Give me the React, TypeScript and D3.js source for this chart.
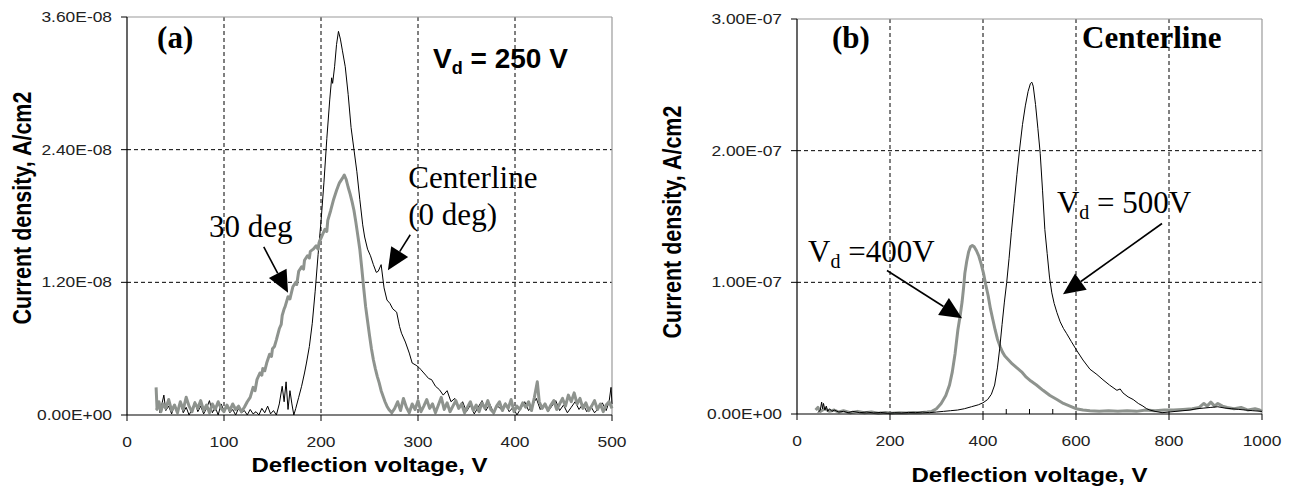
import React from "react";
import * as d3 from "d3";

// ---------- Panel (a): Vd = 250 V, current density in units of 1e-8 A/cm2 ----------
const aXTicks = [0, 100, 200, 300, 400, 500];
const aYTicks = [0, 1.2, 2.4, 3.6];
const aYTickLabels = ["0.00E+00", "1.20E-08", "2.40E-08", "3.60E-08"];

const centerline0deg: [number, number][] = [
  [30, 0.05], [32, 0.12], [34, 0.02], [36, 0.1], [38, 0.18], [40, 0.04], [43, 0.08], [46, 0.01],
  [49, 0.09], [52, 0.03], [55, 0.11], [58, 0.02], [61, 0.07], [64, 0.0], [67, 0.05], [70, 0.12],
  [73, 0.03], [76, 0.08], [79, 0.01], [82, 0.06], [85, 0.13], [88, 0.02], [91, 0.07], [94, 0.0],
  [97, 0.1], [100, 0.04], [103, 0.09], [106, 0.02], [109, 0.05], [112, 0.0], [115, 0.06], [118, 0.02],
  [121, 0.04], [124, 0.0], [127, 0.05], [130, 0.01], [133, 0.03], [136, 0.0], [139, 0.06], [142, 0.02],
  [145, 0.08], [148, 0.01], [151, 0.04], [154, 0.0], [157, 0.1], [160, 0.26], [162, 0.12], [164, 0.3],
  [166, 0.05], [168, 0.22], [170, 0.1], [172, 0.0], [174, 0.06], [177, 0.16], [180, 0.26], [183, 0.38],
  [185, 0.47], [188, 0.62], [191, 0.83], [194, 1.12], [197, 1.45], [200, 1.75], [203, 2.1], [206, 2.5],
  [209, 2.85], [211, 3.05], [212, 3.0], [214, 3.15], [216, 3.35], [218, 3.47], [220, 3.4], [222, 3.3],
  [225, 3.15], [228, 2.9], [231, 2.6], [234, 2.4], [237, 2.2], [240, 1.95], [243, 1.72], [245, 1.61],
  [248, 1.5], [251, 1.44], [254, 1.36], [257, 1.29], [259, 1.3], [262, 1.36], [265, 1.15], [268, 1.04],
  [271, 1.01], [274, 0.96], [278, 0.93], [281, 0.8], [283, 0.74], [287, 0.66], [291, 0.56], [294, 0.47],
  [298, 0.45], [301, 0.43], [303, 0.41], [306, 0.38], [308, 0.36], [311, 0.33], [314, 0.32], [318, 0.26],
  [322, 0.23], [326, 0.18], [330, 0.22], [334, 0.12], [338, 0.15], [342, 0.06], [346, 0.12], [350, 0.03],
  [354, 0.09], [358, 0.01], [362, 0.07], [366, 0.13], [370, 0.04], [374, 0.1], [378, 0.02], [382, 0.08],
  [386, 0.05], [390, 0.11], [394, 0.03], [398, 0.07], [402, 0.0], [406, 0.06], [410, 0.12], [414, 0.04],
  [418, 0.09], [422, 0.15], [426, 0.05], [430, 0.1], [434, 0.03], [438, 0.08], [442, 0.13], [446, 0.04],
  [450, 0.09], [454, 0.02], [458, 0.07], [462, 0.12], [466, 0.05], [470, 0.1], [474, 0.03], [478, 0.08],
  [482, 0.02], [486, 0.06], [490, 0.11], [494, 0.04], [497, 0.12], [499, 0.25], [500, 0.1],
];

const deg30: [number, number][] = [
  [30, 0.25], [31, 0.05], [33, 0.12], [35, 0.03], [37, 0.1], [40, 0.06], [43, 0.14], [46, 0.04],
  [49, 0.09], [52, 0.02], [55, 0.12], [58, 0.05], [61, 0.16], [64, 0.08], [67, 0.03], [70, 0.11],
  [73, 0.06], [76, 0.13], [79, 0.04], [82, 0.09], [85, 0.02], [88, 0.1], [91, 0.05], [94, 0.12],
  [97, 0.06], [100, 0.03], [103, 0.09], [106, 0.04], [109, 0.1], [112, 0.05], [115, 0.08], [118, 0.03],
  [121, 0.07], [124, 0.12], [127, 0.16], [130, 0.25], [132, 0.22], [134, 0.32], [137, 0.38], [139, 0.36],
  [140, 0.42], [142, 0.4], [144, 0.47], [147, 0.55], [149, 0.53], [150, 0.6], [152, 0.62], [154, 0.68],
  [157, 0.78], [159, 0.82], [160, 0.9], [162, 0.96], [163, 0.98], [166, 1.07], [168, 1.05], [171, 1.16],
  [174, 1.2], [175, 1.18], [177, 1.3], [180, 1.34], [182, 1.32], [183, 1.4], [186, 1.44], [188, 1.42],
  [189, 1.48], [192, 1.5], [195, 1.53], [197, 1.5], [198, 1.56], [201, 1.62], [204, 1.68], [206, 1.66],
  [207, 1.76], [210, 1.85], [213, 1.95], [216, 2.03], [219, 2.1], [222, 2.14], [224, 2.17], [226, 2.13],
  [228, 2.06], [230, 2.0], [232, 1.93], [234, 1.85], [236, 1.74], [238, 1.62], [240, 1.5], [242, 1.33],
  [244, 1.15], [246, 0.98], [248, 0.85], [250, 0.72], [252, 0.6], [254, 0.5], [256, 0.42], [258, 0.35],
  [260, 0.29], [262, 0.22], [264, 0.17], [266, 0.12], [268, 0.08], [270, 0.05], [273, 0.02], [276, 0.06],
  [279, 0.12], [282, 0.04], [285, 0.15], [288, 0.07], [291, 0.02], [294, 0.1], [297, 0.05], [300, 0.13],
  [303, 0.03], [306, 0.08], [309, 0.14], [312, 0.06], [315, 0.1], [318, 0.02], [321, 0.09], [324, 0.16],
  [327, 0.05], [330, 0.11], [333, 0.03], [336, 0.08], [339, 0.13], [342, 0.06], [345, 0.1], [348, 0.02],
  [351, 0.07], [354, 0.12], [357, 0.04], [360, 0.09], [363, 0.03], [366, 0.11], [369, 0.06], [372, 0.13],
  [375, 0.05], [378, 0.02], [381, 0.08], [384, 0.12], [387, 0.04], [390, 0.1], [393, 0.06], [396, 0.14],
  [399, 0.03], [402, 0.08], [405, 0.05], [408, 0.11], [411, 0.07], [414, 0.12], [417, 0.04], [420, 0.16],
  [423, 0.3], [425, 0.12], [428, 0.06], [431, 0.1], [434, 0.04], [437, 0.09], [440, 0.13], [443, 0.05],
  [446, 0.1], [449, 0.15], [452, 0.08], [455, 0.18], [458, 0.12], [461, 0.2], [464, 0.1], [467, 0.15],
  [470, 0.06], [473, 0.11], [476, 0.04], [479, 0.08], [482, 0.13], [485, 0.05], [488, 0.1], [491, 0.03],
  [494, 0.09], [497, 0.12], [500, 0.06],
];

// ---------- Panel (b): centerline, current density in units of 1e-7 A/cm2 ----------
const bXTicks = [0, 200, 400, 600, 800, 1000];
const bMinorTicks = [450, 500, 550];
const bYTicks = [0, 1, 2, 3];
const bYTickLabels = ["0.00E+00", "1.00E-07", "2.00E-07", "3.00E-07"];

const vd400: [number, number][] = [
  [40, 0.03], [45, 0.05], [50, 0.02], [60, 0.04], [70, 0.02], [80, 0.03], [90, 0.015], [100, 0.025],
  [115, 0.01], [130, 0.02], [145, 0.01], [160, 0.015], [175, 0.005], [190, 0.012], [205, 0.005], [220, 0.01],
  [235, 0.008], [250, 0.012], [265, 0.01], [280, 0.015], [290, 0.02], [300, 0.04], [310, 0.08], [320, 0.14],
  [328, 0.22], [334, 0.32], [340, 0.46], [346, 0.64], [351, 0.75], [355, 0.85], [358, 0.95], [361, 1.07],
  [365, 1.16], [369, 1.23], [373, 1.27], [377, 1.28], [381, 1.27], [386, 1.24], [391, 1.2], [396, 1.14],
  [401, 1.07], [406, 0.98], [411, 0.9], [416, 0.8], [421, 0.72], [426, 0.64], [431, 0.57], [437, 0.51],
  [442, 0.47], [447, 0.44], [455, 0.41], [463, 0.38], [473, 0.35], [483, 0.32], [493, 0.28], [503, 0.25],
  [515, 0.22], [529, 0.18], [544, 0.14], [559, 0.11], [573, 0.08], [587, 0.06], [600, 0.04], [615, 0.03],
  [630, 0.025], [650, 0.02], [670, 0.025], [690, 0.02], [710, 0.025], [730, 0.02], [750, 0.03], [770, 0.025],
  [790, 0.03], [810, 0.03], [830, 0.035], [850, 0.04], [865, 0.05], [875, 0.08], [882, 0.06], [890, 0.09],
  [898, 0.06], [905, 0.08], [915, 0.06], [925, 0.05], [940, 0.04], [955, 0.05], [970, 0.03], [985, 0.04],
  [995, 0.03], [1000, 0.02],
];

const vd500: [number, number][] = [
  [45, 0.01], [50, 0.03], [53, 0.09], [55, 0.04], [57, 0.08], [60, 0.03], [63, 0.06], [66, 0.02],
  [70, 0.04], [75, 0.02], [80, 0.03], [90, 0.015], [100, 0.02], [110, 0.01], [120, 0.02], [135, 0.01],
  [150, 0.015], [165, 0.008], [180, 0.012], [195, 0.006], [210, 0.01], [225, 0.008], [240, 0.012], [255, 0.01],
  [270, 0.015], [285, 0.01], [300, 0.015], [315, 0.02], [330, 0.025], [345, 0.03], [360, 0.04], [375, 0.055],
  [390, 0.07], [400, 0.085], [410, 0.11], [418, 0.15], [425, 0.22], [431, 0.35], [436, 0.5], [441, 0.68],
  [446, 0.85], [451, 1.0], [456, 1.18], [461, 1.38], [467, 1.6], [473, 1.82], [479, 2.02], [485, 2.2],
  [491, 2.34], [497, 2.45], [502, 2.51], [505, 2.52], [508, 2.49], [513, 2.35], [518, 2.17], [523, 1.98],
  [528, 1.7], [533, 1.4], [538, 1.22], [543, 1.04], [548, 0.92], [553, 0.84], [559, 0.77], [566, 0.7],
  [573, 0.65], [580, 0.61], [590, 0.55], [602, 0.48], [615, 0.41], [630, 0.34], [645, 0.3], [658, 0.26],
  [672, 0.22], [688, 0.18], [695, 0.19], [701, 0.16], [712, 0.13], [723, 0.11], [734, 0.08], [744, 0.06],
  [752, 0.04], [759, 0.03], [770, 0.02], [785, 0.01], [800, 0.015], [815, 0.02], [830, 0.025], [845, 0.03],
  [860, 0.04], [875, 0.045], [890, 0.05], [905, 0.055], [920, 0.045], [935, 0.04], [950, 0.035], [965, 0.03],
  [980, 0.025], [1000, 0.02],
];

const GREY = "#8e938e";
const SANS = "'Liberation Sans', Arial, sans-serif";
const SERIF = "'Liberation Serif', 'Times New Roman', serif";
const STRETCH = 1.2;

type Arrow = { from: [number, number]; to: [number, number] };

function ArrowMark({ a, x, y }: { a: Arrow; x: any; y: any }) {
  const x1 = x(a.from[0]), y1 = y(a.from[1]);
  const x2 = x(a.to[0]), y2 = y(a.to[1]);
  const dx = x2 - x1, dy = y2 - y1;
  const len = Math.hypot(dx, dy);
  const ux = dx / len, uy = dy / len;
  const hl = 22, hw = 10;
  const bx = x2 - ux * hl, by = y2 - uy * hl;
  const pts = `${x2},${y2} ${bx - uy * hw},${by + ux * hw} ${bx + uy * hw},${by - ux * hw}`;
  return (
    <g>
      <line x1={x1} y1={y1} x2={bx} y2={by} stroke="#000" strokeWidth={1.6} />
      <polygon points={pts} fill="#000" />
    </g>
  );
}

function Panel(props: {
  x0: number; x1: number; yTop: number; yBot: number;
  xDomain: [number, number]; yDomain: [number, number];
  xTicks: number[]; yTicks: number[]; yTickLabels: string[]; minorTicks?: number[];
  series: { data: [number, number][]; color: string; width: number }[];
  yTitleX: number; yTitleY: number; xTitleY: number;
  children?: (x: any, y: any) => React.ReactNode;
}) {
  const x = d3.scaleLinear().domain(props.xDomain).range([props.x0, props.x1]);
  const y = d3.scaleLinear().domain(props.yDomain).range([props.yBot, props.yTop]);
  const line = d3.line<[number, number]>().x((d) => x(d[0])).y((d) => y(d[1]));
  const xMid = (props.x0 + props.x1) / 2;
  return (
    <g>
      {props.xTicks.slice(1, -1).map((t) => (
        <line key={"gx" + t} x1={x(t)} x2={x(t)} y1={props.yTop} y2={props.yBot} stroke="#000" strokeWidth={1} strokeDasharray="4,3" />
      ))}
      {props.yTicks.slice(1, -1).map((t) => (
        <line key={"gy" + t} x1={props.x0} x2={props.x1} y1={y(t)} y2={y(t)} stroke="#000" strokeWidth={1} strokeDasharray="4,3" />
      ))}
      <line x1={props.x0} x2={props.x1} y1={props.yTop} y2={props.yTop} stroke="#9a9a9a" strokeWidth={1.2} />
      <line x1={props.x1} x2={props.x1} y1={props.yTop} y2={props.yBot} stroke="#9a9a9a" strokeWidth={1.2} />
      {props.series.map((s, i) => (
        <path key={i} d={line(s.data) || ""} fill="none" stroke={s.color} strokeWidth={s.width} strokeLinejoin="round" />
      ))}
      <line x1={props.x0} x2={props.x0} y1={props.yTop} y2={props.yBot} stroke="#000" strokeWidth={1.2} />
      <line x1={props.x0} x2={props.x1} y1={props.yBot} y2={props.yBot} stroke="#000" strokeWidth={1.2} />
      {props.yTicks.map((t, i) => (
        <g key={"yt" + t}>
          <line x1={props.x0 - 6} x2={props.x0} y1={y(t)} y2={y(t)} stroke="#000" strokeWidth={1} />
          <text
            transform={`translate(${props.x0 - 15},${y(t)}) scale(${STRETCH},1)`}
            dy="0.35em" textAnchor="end" fontFamily={SANS} fontSize={14.5} fill="#222"
          >
            {props.yTickLabels[i]}
          </text>
        </g>
      ))}
      {props.xTicks.map((t) => (
        <g key={"xt" + t}>
          <line x1={x(t)} x2={x(t)} y1={props.yBot} y2={props.yBot + 6} stroke="#000" strokeWidth={1} />
          <text
            transform={`translate(${x(t)},${props.yBot + 32}) scale(${STRETCH},1)`}
            textAnchor="middle" fontFamily={SANS} fontSize={14.5} fill="#222"
          >
            {t}
          </text>
        </g>
      ))}
      {(props.minorTicks || []).map((t) => (
        <line key={"mt" + t} x1={x(t)} x2={x(t)} y1={props.yBot - 5} y2={props.yBot} stroke="#000" strokeWidth={1} />
      ))}
      <text
        transform={`translate(${xMid},${props.xTitleY}) scale(${STRETCH},1)`}
        textAnchor="middle" fontFamily={SANS} fontWeight="bold" fontSize={20} fill="#000"
      >
        Deflection voltage, V
      </text>
      <text
        transform={`translate(${props.yTitleX},${props.yTitleY}) scale(${STRETCH},1) rotate(-90)`}
        textAnchor="middle" dy="0.35em" fontFamily={SANS} fontWeight="bold" fontSize={21.5} fill="#000"
      >
        Current density, A/cm2
      </text>
      {props.children ? props.children(x, y) : null}
    </g>
  );
}

const aArrows: Arrow[] = [
  { from: [141, 1.52], to: [166, 1.105] },
  { from: [292, 1.63], to: [269, 1.31] },
];
const bArrows: Arrow[] = [
  { from: [193.5, 1.09], to: [355, 0.727] },
  { from: [785, 1.447], to: [572, 0.909] },
];

export default function App() {
  return (
    <svg width={1291} height={487} style={{ position: "absolute", left: 0, top: 0, background: "#fff" }}>
      <Panel
        x0={127} x1={612} yTop={17} yBot={415}
        xDomain={[0, 500]} yDomain={[0, 3.6]}
        xTicks={aXTicks} yTicks={aYTicks} yTickLabels={aYTickLabels}
        series={[
          { data: centerline0deg, color: "#000", width: 1 },
          { data: deg30, color: GREY, width: 3 },
        ]}
        yTitleX={22} yTitleY={208} xTitleY={472}
      >
        {(x, y) => (
          <g>
            <text x={x(31)} y={y(3.32)} fontFamily={SERIF} fontWeight="bold" fontSize={31}>(a)</text>
            <text x={x(315.5)} y={y(3.14)} fontFamily={SANS} fontWeight="bold" fontSize={28}>
              V<tspan fontSize={18} dy={6}>d</tspan><tspan dy={-6}> = 250 V</tspan>
            </text>
            <text x={x(290)} y={y(2.05)} fontFamily={SERIF} fontSize={31}>Centerline</text>
            <text x={x(290)} y={y(1.72)} fontFamily={SERIF} fontSize={31}>(0 deg)</text>
            <text x={x(84.5)} y={y(1.61)} fontFamily={SERIF} fontSize={31}>30 deg</text>
            {aArrows.map((a, i) => <ArrowMark key={i} a={a} x={x} y={y} />)}
          </g>
        )}
      </Panel>
      <Panel
        x0={797} x1={1262} yTop={19} yBot={414}
        xDomain={[0, 1000]} yDomain={[0, 3]}
        xTicks={bXTicks} yTicks={bYTicks} yTickLabels={bYTickLabels} minorTicks={bMinorTicks}
        series={[
          { data: vd400, color: GREY, width: 3 },
          { data: vd500, color: "#000", width: 1 },
        ]}
        yTitleX={672} yTitleY={222} xTitleY={482}
      >
        {(x, y) => (
          <g>
            <text x={x(75)} y={y(2.78)} fontFamily={SERIF} fontWeight="bold" fontSize={31}>(b)</text>
            <text x={x(613)} y={y(2.78)} fontFamily={SERIF} fontWeight="bold" fontSize={31}>Centerline</text>
            <text x={x(559)} y={y(1.523)} fontFamily={SERIF} fontSize={31}>
              V<tspan fontSize={20} dy={6}>d</tspan><tspan dy={-6}> = 500V</tspan>
            </text>
            <text x={x(23.7)} y={y(1.152)} fontFamily={SERIF} fontSize={31}>
              V<tspan fontSize={20} dy={6}>d</tspan><tspan dy={-6}> =400V</tspan>
            </text>
            {bArrows.map((a, i) => <ArrowMark key={i} a={a} x={x} y={y} />)}
          </g>
        )}
      </Panel>
    </svg>
  );
}
